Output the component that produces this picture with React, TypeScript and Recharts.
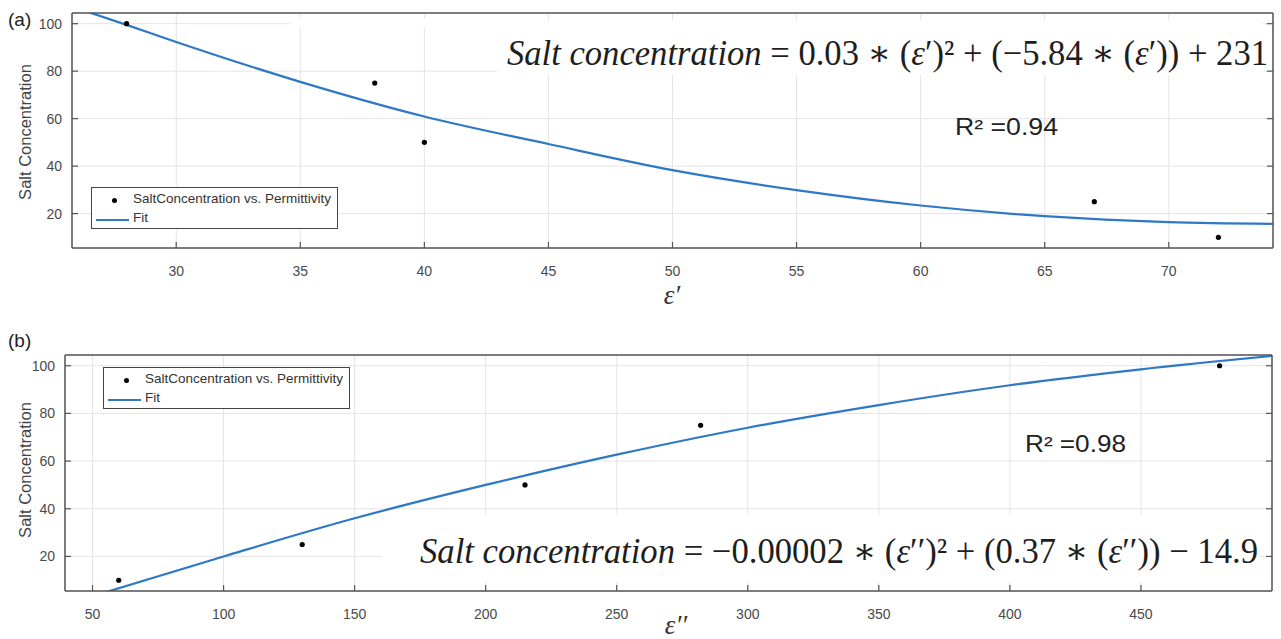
import { ComposedChart, Scatter, Line, XAxis, YAxis, CartesianGrid } from 'recharts';

// measured samples (panel a: salt vs real permittivity)
const pointsA = [
    { x: 28, y: 100 },
    { x: 38, y: 75 },
    { x: 40, y: 50 },
    { x: 67, y: 25 },
    { x: 72, y: 10 },
];
const fitXA = [26, 28, 30, 35, 40, 45, 50, 55, 60, 65, 70, 74.2];
const fitYA = [106.5, 99.5, 92.3, 75.5, 60.9, 49.3, 38.3, 29.9, 23.4, 18.9, 16.4, 15.7];
const fitA = fitXA.map((x, i) => ({ x, y: fitYA[i] }));

// panel b: salt vs imaginary permittivity
const pointsB = [
    { x: 60, y: 10 },
    { x: 130, y: 25 },
    { x: 215, y: 50 },
    { x: 282, y: 75 },
    { x: 480, y: 100 },
];
const fitXB = [55, 100, 150, 200, 250, 300, 350, 400, 450, 500];
const fitYB = [5, 20, 36, 50, 62.7, 74, 83.5, 91.8, 98.5, 104.1];
const fitB = fitXB.map((x, i) => ({ x, y: fitYB[i] }));

const ticksXA = [30, 35, 40, 45, 50, 55, 60, 65, 70];
const ticksXB = [50, 100, 150, 200, 250, 300, 350, 400, 450];
const ticksY = [20, 40, 60, 80, 100];

const AXIS = '#555';
const TICK_TXT = '#4a4a4a';
const GRID = '#e4e4e4';
const FIT = '#2e78c6';
const SANS = '"Liberation Sans", Arial, sans-serif';
const SERIF = '"Liberation Serif", "DejaVu Serif", serif';
const TL = 6; // inward tick length
const XM = 18; // bottom label gap
const YM = 10; // left label gap

const Dot = (props: any) => <circle cx={props.cx} cy={props.cy} r={2.6} fill="#000" />;

// MATLAB style: tick marks point into the axes
const BottomTick = ({ x, y, payload }: any) => (
    <g>
        <line x1={x} x2={x} y1={y - XM} y2={y - XM - TL} stroke={AXIS} strokeWidth={1.2} />
        <text x={x} y={y} dy="0.71em" textAnchor="middle" fill={TICK_TXT} fontSize={14} fontFamily={SANS}>{payload.value}</text>
    </g>
);
const LeftTick = ({ x, y, payload }: any) => (
    <g>
        <line x1={x + YM} x2={x + YM + TL} y1={y} y2={y} stroke={AXIS} strokeWidth={1.2} />
        <text x={x} y={y} dy="0.355em" textAnchor="end" fill={TICK_TXT} fontSize={14} fontFamily={SANS}>{payload.value}</text>
    </g>
);
const TopTick = ({ x, y }: any) => <line x1={x} x2={x} y1={y} y2={y + TL} stroke={AXIS} strokeWidth={1.2} />;
const RightTick = ({ x, y }: any) => <line x1={x} x2={x - TL} y1={y} y2={y} stroke={AXIS} strokeWidth={1.2} />;

interface PanelProps {
    points: { x: number, y: number }[];
    fit: { x: number, y: number }[];
    xDomain: [number, number];
    xTicks: number[];
    top: number;
    height: number;
    marginTop: number;
    marginRight: number;
    yWidth: number;
    xHeight: number;
}

const Panel = ({ points, fit, xDomain, xTicks, top, height, marginTop, marginRight, yWidth, xHeight }: PanelProps) => (
    <div style={{ position: 'absolute', left: 0, top }}>
        <ComposedChart width={1281} height={height} margin={{ top: marginTop - 1, right: marginRight - 1, bottom: 0, left: 0 }}>
            <CartesianGrid stroke={GRID} />
            <XAxis
                dataKey="x" type="number" domain={xDomain} ticks={xTicks} allowDataOverflow
                height={xHeight} stroke={AXIS} strokeWidth={1.5} tickLine={false} tickSize={0} tickMargin={XM} tick={<BottomTick />}
            />
            <XAxis
                xAxisId="top" orientation="top" type="number" domain={xDomain} ticks={xTicks} allowDataOverflow
                height={1} stroke={AXIS} strokeWidth={1.5} tickLine={false} tickSize={0} tickMargin={0} tick={<TopTick />}
            />
            <YAxis
                type="number" domain={[5.5, 104.5]} ticks={ticksY} allowDataOverflow
                width={yWidth} stroke={AXIS} strokeWidth={1.5} tickLine={false} tickSize={0} tickMargin={YM} tick={<LeftTick />}
            />
            <YAxis
                yAxisId="right" orientation="right" type="number" domain={[5.5, 104.5]} ticks={ticksY} allowDataOverflow
                width={1} stroke={AXIS} strokeWidth={1.5} tickLine={false} tickSize={0} tickMargin={0} tick={<RightTick />}
            />
            <Line data={fit} dataKey="y" type="monotone" stroke={FIT} strokeWidth={2.2} dot={false} isAnimationActive={false} />
            <Scatter data={points} dataKey="y" shape={<Dot />} isAnimationActive={false} />
        </ComposedChart>
    </div>
);

const LegendBox = ({ left, top }: { left: number, top: number }) => (
    <div style={{
        position: 'absolute', left, top, width: 245, height: 40, border: '1px solid #444',
        background: '#fff', fontFamily: SANS, fontSize: 13.5, color: '#333',
    }}>
        <div style={{ position: 'absolute', left: 20, top: 10, width: 5, height: 5, borderRadius: 3, background: '#000' }} />
        <div style={{ position: 'absolute', left: 41, top: 3, whiteSpace: 'nowrap' }}>SaltConcentration vs. Permittivity</div>
        <div style={{ position: 'absolute', left: 4, top: 31, width: 33, height: 2, background: FIT }} />
        <div style={{ position: 'absolute', left: 41, top: 22 }}>Fit</div>
    </div>
);

const App = () => (
    <div style={{ position: 'absolute', left: 0, top: 0, width: 1281, height: 639, background: '#fff', overflow: 'hidden' }}>
        <Panel points={pointsA} fit={fitA} xDomain={[25.8, 74.2]} xTicks={ticksXA}
            top={0} height={320} marginTop={13} marginRight={8} yWidth={72} xHeight={72} />
        <Panel points={pointsB} fit={fitB} xDomain={[39.5, 500]} xTicks={ticksXB}
            top={320} height={319} marginTop={35} marginRight={9} yWidth={65} xHeight={48} />

        <svg width={1281} height={639} style={{ position: 'absolute', left: 0, top: 0, pointerEvents: 'none' }}>
            {/* pasted equation boxes hide the grid behind them */}
            <rect x={290} y={19} width={207} height={9} fill="#fff" />
            <rect x={497} y={20} width={766} height={55} fill="#fff" />
            <rect x={382} y={515} width={878} height={67} fill="#fff" />

            <text x={8} y={26} fontFamily={SANS} fontSize={19} fill="#222">(a)</text>
            <text x={8} y={347} fontFamily={SANS} fontSize={19} fill="#222">(b)</text>

            <text x={31} y={132} transform="rotate(-90 31 132)" textAnchor="middle" fontFamily={SANS} fontSize={16.5} fill="#444">Salt Concentration</text>
            <text x={31} y={470} transform="rotate(-90 31 470)" textAnchor="middle" fontFamily={SANS} fontSize={16.5} fill="#444">Salt Concentration</text>

            <text x={672} y={304} textAnchor="middle" fontFamily={SERIF} fontStyle="italic" fontSize={27} fill="#333">ε′</text>
            <text x={676} y={634} textAnchor="middle" fontFamily={SERIF} fontStyle="italic" fontSize={27} fill="#333">ε′′</text>

            <text x={507} y={65} fontFamily={SERIF} fontSize={35} fill="#1e1e1e" textLength={761} lengthAdjust="spacingAndGlyphs">
                <tspan fontStyle="italic">Salt concentration</tspan>
                <tspan> = 0.03 ∗ (</tspan><tspan fontStyle="italic">ε</tspan><tspan>′)² + (−5.84 ∗ (</tspan>
                <tspan fontStyle="italic">ε</tspan><tspan>′)) + 231</tspan>
            </text>
            <text x={420} y={563} fontFamily={SERIF} fontSize={35} fill="#1e1e1e" textLength={838} lengthAdjust="spacingAndGlyphs">
                <tspan fontStyle="italic">Salt concentration</tspan>
                <tspan> = −0.00002 ∗ (</tspan><tspan fontStyle="italic">ε</tspan><tspan>′′)² + (0.37 ∗ (</tspan>
                <tspan fontStyle="italic">ε</tspan><tspan>′′)) − 14.9</tspan>
            </text>

            <text x={955} y={135} fontFamily={SANS} fontSize={23} fill="#222" textLength={103} lengthAdjust="spacingAndGlyphs">R² =0.94</text>
            <text x={1025} y={452} fontFamily={SANS} fontSize={23} fill="#222" textLength={101} lengthAdjust="spacingAndGlyphs">R² =0.98</text>
        </svg>

        <LegendBox left={91} top={187} />
        <LegendBox left={103} top={367} />
    </div>
);

export default App;
